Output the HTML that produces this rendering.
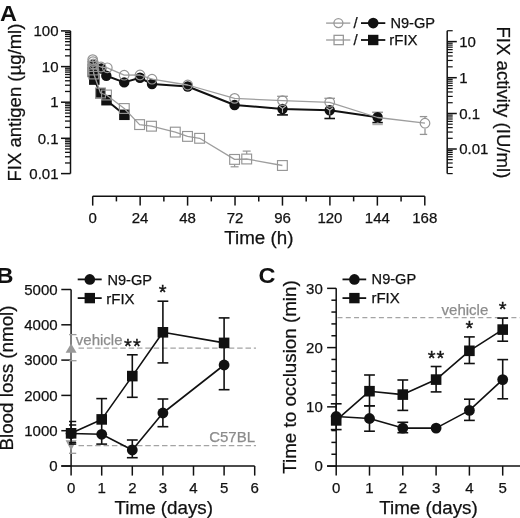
<!DOCTYPE html>
<html><head><meta charset="utf-8"><style>
html,body{margin:0;padding:0;background:#fff;}
svg{display:block;font-family:"Liberation Sans",sans-serif;-webkit-font-smoothing:antialiased;will-change:transform;}
</style></head><body>
<svg width="520" height="518" viewBox="0 0 520 518">
<rect width="520" height="518" fill="#fff"/>
<text transform="translate(0,20.9) scale(1.05,1)" font-size="22.4" font-weight="bold" fill="#111">A</text>
<line x1="70.50" y1="30.90" x2="70.50" y2="173.60" stroke="#111" stroke-width="1.5" />
<line x1="61.00" y1="173.60" x2="70.50" y2="173.60" stroke="#111" stroke-width="1.5" />
<line x1="65.00" y1="162.97" x2="70.50" y2="162.97" stroke="#111" stroke-width="1.3" />
<line x1="65.00" y1="156.76" x2="70.50" y2="156.76" stroke="#111" stroke-width="1.3" />
<line x1="65.00" y1="152.35" x2="70.50" y2="152.35" stroke="#111" stroke-width="1.3" />
<line x1="65.00" y1="148.93" x2="70.50" y2="148.93" stroke="#111" stroke-width="1.3" />
<line x1="65.00" y1="146.13" x2="70.50" y2="146.13" stroke="#111" stroke-width="1.3" />
<line x1="65.00" y1="143.77" x2="70.50" y2="143.77" stroke="#111" stroke-width="1.3" />
<line x1="65.00" y1="141.72" x2="70.50" y2="141.72" stroke="#111" stroke-width="1.3" />
<line x1="65.00" y1="139.92" x2="70.50" y2="139.92" stroke="#111" stroke-width="1.3" />
<line x1="61.00" y1="138.30" x2="70.50" y2="138.30" stroke="#111" stroke-width="1.5" />
<line x1="65.00" y1="127.43" x2="70.50" y2="127.43" stroke="#111" stroke-width="1.3" />
<line x1="65.00" y1="121.08" x2="70.50" y2="121.08" stroke="#111" stroke-width="1.3" />
<line x1="65.00" y1="116.57" x2="70.50" y2="116.57" stroke="#111" stroke-width="1.3" />
<line x1="65.00" y1="113.07" x2="70.50" y2="113.07" stroke="#111" stroke-width="1.3" />
<line x1="65.00" y1="110.21" x2="70.50" y2="110.21" stroke="#111" stroke-width="1.3" />
<line x1="65.00" y1="107.79" x2="70.50" y2="107.79" stroke="#111" stroke-width="1.3" />
<line x1="65.00" y1="105.70" x2="70.50" y2="105.70" stroke="#111" stroke-width="1.3" />
<line x1="65.00" y1="103.85" x2="70.50" y2="103.85" stroke="#111" stroke-width="1.3" />
<line x1="61.00" y1="102.20" x2="70.50" y2="102.20" stroke="#111" stroke-width="1.5" />
<line x1="65.00" y1="91.48" x2="70.50" y2="91.48" stroke="#111" stroke-width="1.3" />
<line x1="65.00" y1="85.21" x2="70.50" y2="85.21" stroke="#111" stroke-width="1.3" />
<line x1="65.00" y1="80.77" x2="70.50" y2="80.77" stroke="#111" stroke-width="1.3" />
<line x1="65.00" y1="77.32" x2="70.50" y2="77.32" stroke="#111" stroke-width="1.3" />
<line x1="65.00" y1="74.50" x2="70.50" y2="74.50" stroke="#111" stroke-width="1.3" />
<line x1="65.00" y1="72.11" x2="70.50" y2="72.11" stroke="#111" stroke-width="1.3" />
<line x1="65.00" y1="70.05" x2="70.50" y2="70.05" stroke="#111" stroke-width="1.3" />
<line x1="65.00" y1="68.23" x2="70.50" y2="68.23" stroke="#111" stroke-width="1.3" />
<line x1="61.00" y1="66.60" x2="70.50" y2="66.60" stroke="#111" stroke-width="1.5" />
<line x1="65.00" y1="55.85" x2="70.50" y2="55.85" stroke="#111" stroke-width="1.3" />
<line x1="65.00" y1="49.57" x2="70.50" y2="49.57" stroke="#111" stroke-width="1.3" />
<line x1="65.00" y1="45.11" x2="70.50" y2="45.11" stroke="#111" stroke-width="1.3" />
<line x1="65.00" y1="41.65" x2="70.50" y2="41.65" stroke="#111" stroke-width="1.3" />
<line x1="65.00" y1="38.82" x2="70.50" y2="38.82" stroke="#111" stroke-width="1.3" />
<line x1="65.00" y1="36.43" x2="70.50" y2="36.43" stroke="#111" stroke-width="1.3" />
<line x1="65.00" y1="34.36" x2="70.50" y2="34.36" stroke="#111" stroke-width="1.3" />
<line x1="65.00" y1="32.53" x2="70.50" y2="32.53" stroke="#111" stroke-width="1.3" />
<line x1="61.00" y1="30.90" x2="70.50" y2="30.90" stroke="#111" stroke-width="1.5" />
<text x="58.50" y="36.10" font-size="15" text-anchor="end" fill="#111" font-weight="normal"  stroke="#111" stroke-width="0.25">100</text>
<text x="58.50" y="71.80" font-size="15" text-anchor="end" fill="#111" font-weight="normal"  stroke="#111" stroke-width="0.25">10</text>
<text x="58.50" y="107.40" font-size="15" text-anchor="end" fill="#111" font-weight="normal"  stroke="#111" stroke-width="0.25">1</text>
<text x="58.50" y="143.50" font-size="15" text-anchor="end" fill="#111" font-weight="normal"  stroke="#111" stroke-width="0.25">0.1</text>
<text x="58.50" y="178.80" font-size="15" text-anchor="end" fill="#111" font-weight="normal"  stroke="#111" stroke-width="0.25">0.01</text>
<text transform="translate(21.40,102.60) rotate(-90)" x="0" y="0" font-size="18.55" text-anchor="middle" fill="#111" stroke="#111" stroke-width="0.25">FIX antigen (µg/ml)</text>
<line x1="92.70" y1="196.20" x2="424.80" y2="196.20" stroke="#111" stroke-width="1.5" />
<line x1="92.70" y1="196.20" x2="92.70" y2="205.60" stroke="#111" stroke-width="1.5" />
<text x="92.70" y="222.60" font-size="15" text-anchor="middle" fill="#111" font-weight="normal"  stroke="#111" stroke-width="0.25">0</text>
<line x1="116.42" y1="196.20" x2="116.42" y2="201.40" stroke="#111" stroke-width="1.5" />
<line x1="140.14" y1="196.20" x2="140.14" y2="205.60" stroke="#111" stroke-width="1.5" />
<text x="140.14" y="222.60" font-size="15" text-anchor="middle" fill="#111" font-weight="normal"  stroke="#111" stroke-width="0.25">24</text>
<line x1="163.86" y1="196.20" x2="163.86" y2="201.40" stroke="#111" stroke-width="1.5" />
<line x1="187.59" y1="196.20" x2="187.59" y2="205.60" stroke="#111" stroke-width="1.5" />
<text x="187.59" y="222.60" font-size="15" text-anchor="middle" fill="#111" font-weight="normal"  stroke="#111" stroke-width="0.25">48</text>
<line x1="211.31" y1="196.20" x2="211.31" y2="201.40" stroke="#111" stroke-width="1.5" />
<line x1="235.03" y1="196.20" x2="235.03" y2="205.60" stroke="#111" stroke-width="1.5" />
<text x="235.03" y="222.60" font-size="15" text-anchor="middle" fill="#111" font-weight="normal"  stroke="#111" stroke-width="0.25">72</text>
<line x1="258.75" y1="196.20" x2="258.75" y2="201.40" stroke="#111" stroke-width="1.5" />
<line x1="282.47" y1="196.20" x2="282.47" y2="205.60" stroke="#111" stroke-width="1.5" />
<text x="282.47" y="222.60" font-size="15" text-anchor="middle" fill="#111" font-weight="normal"  stroke="#111" stroke-width="0.25">96</text>
<line x1="306.19" y1="196.20" x2="306.19" y2="201.40" stroke="#111" stroke-width="1.5" />
<line x1="329.91" y1="196.20" x2="329.91" y2="205.60" stroke="#111" stroke-width="1.5" />
<text x="329.91" y="222.60" font-size="15" text-anchor="middle" fill="#111" font-weight="normal"  stroke="#111" stroke-width="0.25">120</text>
<line x1="353.64" y1="196.20" x2="353.64" y2="201.40" stroke="#111" stroke-width="1.5" />
<line x1="377.36" y1="196.20" x2="377.36" y2="205.60" stroke="#111" stroke-width="1.5" />
<text x="377.36" y="222.60" font-size="15" text-anchor="middle" fill="#111" font-weight="normal"  stroke="#111" stroke-width="0.25">144</text>
<line x1="401.08" y1="196.20" x2="401.08" y2="201.40" stroke="#111" stroke-width="1.5" />
<line x1="424.80" y1="196.20" x2="424.80" y2="205.60" stroke="#111" stroke-width="1.5" />
<text x="424.80" y="222.60" font-size="15" text-anchor="middle" fill="#111" font-weight="normal"  stroke="#111" stroke-width="0.25">168</text>
<text x="258.90" y="243.90" font-size="18.8" text-anchor="middle" fill="#111" font-weight="normal"  stroke="#111" stroke-width="0.25">Time (h)</text>
<line x1="447.20" y1="30.73" x2="447.20" y2="173.60" stroke="#111" stroke-width="1.5" />
<line x1="447.20" y1="149.00" x2="456.80" y2="149.00" stroke="#111" stroke-width="1.5" />
<line x1="447.20" y1="113.50" x2="456.80" y2="113.50" stroke="#111" stroke-width="1.5" />
<line x1="447.20" y1="77.70" x2="456.80" y2="77.70" stroke="#111" stroke-width="1.5" />
<line x1="447.20" y1="41.60" x2="456.80" y2="41.60" stroke="#111" stroke-width="1.5" />
<line x1="447.20" y1="173.60" x2="452.70" y2="173.60" stroke="#111" stroke-width="1.2" />
<line x1="447.20" y1="167.41" x2="452.70" y2="167.41" stroke="#111" stroke-width="1.2" />
<line x1="447.20" y1="163.01" x2="452.70" y2="163.01" stroke="#111" stroke-width="1.2" />
<line x1="447.20" y1="159.60" x2="452.70" y2="159.60" stroke="#111" stroke-width="1.2" />
<line x1="447.20" y1="156.81" x2="452.70" y2="156.81" stroke="#111" stroke-width="1.2" />
<line x1="447.20" y1="154.45" x2="452.70" y2="154.45" stroke="#111" stroke-width="1.2" />
<line x1="447.20" y1="152.41" x2="452.70" y2="152.41" stroke="#111" stroke-width="1.2" />
<line x1="447.20" y1="150.61" x2="452.70" y2="150.61" stroke="#111" stroke-width="1.2" />
<line x1="447.20" y1="138.31" x2="452.70" y2="138.31" stroke="#111" stroke-width="1.2" />
<line x1="447.20" y1="132.06" x2="452.70" y2="132.06" stroke="#111" stroke-width="1.2" />
<line x1="447.20" y1="127.63" x2="452.70" y2="127.63" stroke="#111" stroke-width="1.2" />
<line x1="447.20" y1="124.19" x2="452.70" y2="124.19" stroke="#111" stroke-width="1.2" />
<line x1="447.20" y1="121.38" x2="452.70" y2="121.38" stroke="#111" stroke-width="1.2" />
<line x1="447.20" y1="119.00" x2="452.70" y2="119.00" stroke="#111" stroke-width="1.2" />
<line x1="447.20" y1="116.94" x2="452.70" y2="116.94" stroke="#111" stroke-width="1.2" />
<line x1="447.20" y1="115.12" x2="452.70" y2="115.12" stroke="#111" stroke-width="1.2" />
<line x1="447.20" y1="102.72" x2="452.70" y2="102.72" stroke="#111" stroke-width="1.2" />
<line x1="447.20" y1="96.42" x2="452.70" y2="96.42" stroke="#111" stroke-width="1.2" />
<line x1="447.20" y1="91.95" x2="452.70" y2="91.95" stroke="#111" stroke-width="1.2" />
<line x1="447.20" y1="88.48" x2="452.70" y2="88.48" stroke="#111" stroke-width="1.2" />
<line x1="447.20" y1="85.64" x2="452.70" y2="85.64" stroke="#111" stroke-width="1.2" />
<line x1="447.20" y1="83.25" x2="452.70" y2="83.25" stroke="#111" stroke-width="1.2" />
<line x1="447.20" y1="81.17" x2="452.70" y2="81.17" stroke="#111" stroke-width="1.2" />
<line x1="447.20" y1="79.34" x2="452.70" y2="79.34" stroke="#111" stroke-width="1.2" />
<line x1="447.20" y1="66.83" x2="452.70" y2="66.83" stroke="#111" stroke-width="1.2" />
<line x1="447.20" y1="60.48" x2="452.70" y2="60.48" stroke="#111" stroke-width="1.2" />
<line x1="447.20" y1="55.97" x2="452.70" y2="55.97" stroke="#111" stroke-width="1.2" />
<line x1="447.20" y1="52.47" x2="452.70" y2="52.47" stroke="#111" stroke-width="1.2" />
<line x1="447.20" y1="49.61" x2="452.70" y2="49.61" stroke="#111" stroke-width="1.2" />
<line x1="447.20" y1="47.19" x2="452.70" y2="47.19" stroke="#111" stroke-width="1.2" />
<line x1="447.20" y1="45.10" x2="452.70" y2="45.10" stroke="#111" stroke-width="1.2" />
<line x1="447.20" y1="43.25" x2="452.70" y2="43.25" stroke="#111" stroke-width="1.2" />
<line x1="447.20" y1="30.73" x2="452.70" y2="30.73" stroke="#111" stroke-width="1.2" />
<text x="459.20" y="46.80" font-size="15" text-anchor="start" fill="#111" font-weight="normal"  stroke="#111" stroke-width="0.25">10</text>
<text x="459.20" y="82.90" font-size="15" text-anchor="start" fill="#111" font-weight="normal"  stroke="#111" stroke-width="0.25">1</text>
<text x="459.20" y="118.70" font-size="15" text-anchor="start" fill="#111" font-weight="normal"  stroke="#111" stroke-width="0.25">0.1</text>
<text x="459.20" y="154.20" font-size="15" text-anchor="start" fill="#111" font-weight="normal"  stroke="#111" stroke-width="0.25">0.01</text>
<text transform="translate(497.10,102.40) rotate(90)" x="0" y="0" font-size="18.6" text-anchor="middle" fill="#111" stroke="#111" stroke-width="0.25">FIX activity (IU/ml)</text>
<line x1="282.50" y1="114.00" x2="282.50" y2="114.90" stroke="#111" stroke-width="1.6" />
<line x1="277.10" y1="114.90" x2="287.90" y2="114.90" stroke="#111" stroke-width="1.6" />
<line x1="329.70" y1="115.20" x2="329.70" y2="118.50" stroke="#111" stroke-width="1.6" />
<line x1="324.40" y1="118.50" x2="335.00" y2="118.50" stroke="#111" stroke-width="1.6" />
<line x1="377.60" y1="112.00" x2="377.60" y2="112.30" stroke="#999" stroke-width="1.5" />
<line x1="372.20" y1="112.30" x2="383.00" y2="112.30" stroke="#999" stroke-width="1.5" />
<line x1="377.60" y1="122.00" x2="377.60" y2="122.60" stroke="#111" stroke-width="1.6" />
<line x1="372.40" y1="122.60" x2="382.80" y2="122.60" stroke="#111" stroke-width="1.6" />
<line x1="377.60" y1="122.00" x2="377.60" y2="124.30" stroke="#b0b0b0" stroke-width="1.8" />
<line x1="372.40" y1="124.30" x2="382.80" y2="124.30" stroke="#b0b0b0" stroke-width="1.8" />
<polyline points="92.80,72.00 94.30,79.60 100.40,93.20 106.50,100.20 124.40,114.80" fill="none" stroke="#111" stroke-width="2" stroke-linejoin="round"/>
<rect x="87.55" y="66.75" width="10.5" height="10.5" fill="#111"/>
<rect x="89.05" y="74.35" width="10.5" height="10.5" fill="#111"/>
<rect x="95.15" y="87.95" width="10.5" height="10.5" fill="#111"/>
<rect x="101.25" y="94.95" width="10.5" height="10.5" fill="#111"/>
<rect x="119.15" y="109.55" width="10.5" height="10.5" fill="#111"/>
<polyline points="92.80,65.00 93.30,67.00 93.80,69.00 101.30,68.50 106.30,75.80 124.20,82.40 140.00,77.80 152.00,84.00 187.70,86.50 234.60,105.00 282.50,109.00 329.70,110.20 377.60,117.20" fill="none" stroke="#111" stroke-width="2" stroke-linejoin="round"/>
<circle cx="92.80" cy="65.00" r="5.2" fill="#111"/>
<circle cx="93.30" cy="67.00" r="5.2" fill="#111"/>
<circle cx="93.80" cy="69.00" r="5.2" fill="#111"/>
<circle cx="101.30" cy="68.50" r="5.2" fill="#111"/>
<circle cx="106.30" cy="75.80" r="5.2" fill="#111"/>
<circle cx="124.20" cy="82.40" r="5.2" fill="#111"/>
<circle cx="140.00" cy="77.80" r="5.2" fill="#111"/>
<circle cx="152.00" cy="84.00" r="5.2" fill="#111"/>
<circle cx="187.70" cy="86.50" r="5.2" fill="#111"/>
<circle cx="234.60" cy="105.00" r="5.2" fill="#111"/>
<circle cx="282.50" cy="109.00" r="5.2" fill="#111"/>
<circle cx="329.70" cy="110.20" r="5.2" fill="#111"/>
<circle cx="377.60" cy="117.20" r="5.2" fill="#111"/>
<polyline points="279.10,106.00 282.50,108.60 285.90,106.00" fill="none" stroke="#bbb" stroke-width="1.1"/>
<line x1="282.50" y1="108.60" x2="282.50" y2="112.80" stroke="#bbb" stroke-width="1.1" />
<polyline points="326.30,107.70 329.70,110.30 333.10,107.70" fill="none" stroke="#bbb" stroke-width="1.1"/>
<line x1="329.70" y1="110.30" x2="329.70" y2="114.50" stroke="#bbb" stroke-width="1.1" />
<line x1="282.50" y1="96.00" x2="282.50" y2="96.30" stroke="#959595" stroke-width="1.3" />
<line x1="277.10" y1="96.30" x2="287.90" y2="96.30" stroke="#959595" stroke-width="1.3" />
<line x1="329.70" y1="97.50" x2="329.70" y2="98.30" stroke="#959595" stroke-width="1.3" />
<line x1="324.40" y1="98.30" x2="335.00" y2="98.30" stroke="#959595" stroke-width="1.3" />
<line x1="425.00" y1="118.00" x2="425.00" y2="116.60" stroke="#959595" stroke-width="1.3" />
<line x1="419.80" y1="116.60" x2="427.20" y2="116.60" stroke="#959595" stroke-width="1.3" />
<line x1="425.00" y1="128.40" x2="425.00" y2="134.40" stroke="#959595" stroke-width="1.3" />
<line x1="419.80" y1="134.40" x2="427.20" y2="134.40" stroke="#959595" stroke-width="1.3" />
<line x1="234.60" y1="164.50" x2="234.60" y2="166.80" stroke="#959595" stroke-width="1.2" />
<line x1="230.60" y1="166.80" x2="238.60" y2="166.80" stroke="#959595" stroke-width="1.2" />
<line x1="246.70" y1="154.00" x2="246.70" y2="151.10" stroke="#959595" stroke-width="1.2" />
<line x1="242.70" y1="151.10" x2="250.70" y2="151.10" stroke="#959595" stroke-width="1.2" />
<polyline points="92.80,66.50 93.30,70.00 93.80,74.00 100.50,93.00 106.50,95.00 124.30,108.50 139.60,124.60 151.50,126.20 175.30,132.10 187.50,136.40 199.60,138.30 234.60,159.40 246.70,159.00 282.40,165.50" fill="none" stroke="#9e9e9e" stroke-width="1.3" stroke-linejoin="round"/>
<rect x="87.90" y="61.60" width="9.8" height="9.8" fill="none" stroke="#959595" stroke-width="1.15"/>
<rect x="88.40" y="65.10" width="9.8" height="9.8" fill="none" stroke="#959595" stroke-width="1.15"/>
<rect x="88.90" y="69.10" width="9.8" height="9.8" fill="none" stroke="#959595" stroke-width="1.15"/>
<rect x="95.60" y="88.10" width="9.8" height="9.8" fill="none" stroke="#959595" stroke-width="1.15"/>
<rect x="101.60" y="90.10" width="9.8" height="9.8" fill="none" stroke="#959595" stroke-width="1.15"/>
<rect x="119.40" y="103.60" width="9.8" height="9.8" fill="none" stroke="#959595" stroke-width="1.15"/>
<rect x="134.70" y="119.70" width="9.8" height="9.8" fill="none" stroke="#959595" stroke-width="1.15"/>
<rect x="146.60" y="121.30" width="9.8" height="9.8" fill="none" stroke="#959595" stroke-width="1.15"/>
<rect x="170.40" y="127.20" width="9.8" height="9.8" fill="none" stroke="#959595" stroke-width="1.15"/>
<rect x="182.60" y="131.50" width="9.8" height="9.8" fill="none" stroke="#959595" stroke-width="1.15"/>
<rect x="194.70" y="133.40" width="9.8" height="9.8" fill="none" stroke="#959595" stroke-width="1.15"/>
<rect x="229.70" y="154.50" width="9.8" height="9.8" fill="none" stroke="#959595" stroke-width="1.15"/>
<rect x="241.80" y="154.10" width="9.8" height="9.8" fill="none" stroke="#959595" stroke-width="1.15"/>
<rect x="277.50" y="160.60" width="9.8" height="9.8" fill="none" stroke="#959595" stroke-width="1.15"/>
<polyline points="92.70,59.60 93.00,61.60 93.40,64.00 101.00,67.00 107.30,67.80 124.20,75.20 140.00,75.00 152.00,79.20 187.70,85.00 234.60,98.40 282.50,100.60 329.70,102.30 377.60,117.50 425.00,123.20" fill="none" stroke="#9e9e9e" stroke-width="1.3" stroke-linejoin="round"/>
<circle cx="92.70" cy="59.60" r="4.8" fill="none" stroke="#959595" stroke-width="1.2"/>
<circle cx="93.00" cy="61.60" r="4.8" fill="none" stroke="#959595" stroke-width="1.2"/>
<circle cx="93.40" cy="64.00" r="4.8" fill="none" stroke="#959595" stroke-width="1.2"/>
<circle cx="101.00" cy="67.00" r="4.8" fill="none" stroke="#959595" stroke-width="1.2"/>
<circle cx="107.30" cy="67.80" r="4.8" fill="none" stroke="#959595" stroke-width="1.2"/>
<circle cx="124.20" cy="75.20" r="4.8" fill="none" stroke="#959595" stroke-width="1.2"/>
<circle cx="140.00" cy="75.00" r="4.8" fill="none" stroke="#959595" stroke-width="1.2"/>
<circle cx="152.00" cy="79.20" r="4.8" fill="none" stroke="#959595" stroke-width="1.2"/>
<circle cx="187.70" cy="85.00" r="4.8" fill="none" stroke="#959595" stroke-width="1.2"/>
<circle cx="234.60" cy="98.40" r="4.8" fill="none" stroke="#959595" stroke-width="1.2"/>
<circle cx="282.50" cy="100.60" r="4.8" fill="none" stroke="#959595" stroke-width="1.2"/>
<circle cx="329.70" cy="102.30" r="4.8" fill="none" stroke="#959595" stroke-width="1.2"/>
<circle cx="425.00" cy="123.20" r="4.8" fill="none" stroke="#959595" stroke-width="1.2"/>
<line x1="326.10" y1="23.10" x2="350.30" y2="23.10" stroke="#999" stroke-width="1.3" />
<circle cx="338.40" cy="23.10" r="4.5" fill="none" stroke="#999" stroke-width="1.3"/>
<text x="353.60" y="28.30" font-size="15" text-anchor="start" fill="#111" font-weight="normal"  stroke="#111" stroke-width="0.25">/</text>
<line x1="361.00" y1="23.10" x2="385.30" y2="23.10" stroke="#111" stroke-width="1.8" />
<circle cx="373.20" cy="23.10" r="5.3" fill="#111"/>
<text x="390.40" y="28.20" font-size="14.6" text-anchor="start" fill="#111" font-weight="normal"  stroke="#111" stroke-width="0.25">N9-GP</text>
<line x1="326.10" y1="40.00" x2="350.30" y2="40.00" stroke="#999" stroke-width="1.3" />
<rect x="334.05" y="35.35" width="9.3" height="9.3" fill="none" stroke="#999" stroke-width="1.3"/>
<text x="353.60" y="44.80" font-size="15" text-anchor="start" fill="#111" font-weight="normal"  stroke="#111" stroke-width="0.25">/</text>
<line x1="361.00" y1="40.00" x2="385.30" y2="40.00" stroke="#111" stroke-width="1.8" />
<rect x="368.00" y="34.80" width="10.4" height="10.4" fill="#111"/>
<text x="389.30" y="44.60" font-size="15" text-anchor="start" fill="#111" font-weight="normal"  stroke="#111" stroke-width="0.25">rFIX</text>
<text transform="translate(-3.4,282.6) scale(1.05,1)" font-size="22.4" font-weight="bold" fill="#111">B</text>
<line x1="71.10" y1="289.50" x2="71.10" y2="475.60" stroke="#111" stroke-width="1.5" />
<line x1="61.30" y1="466.00" x2="254.70" y2="466.00" stroke="#111" stroke-width="1.5" />
<line x1="61.30" y1="466.00" x2="71.10" y2="466.00" stroke="#111" stroke-width="1.5" />
<text x="57.60" y="471.20" font-size="15" text-anchor="end" fill="#111" font-weight="normal"  stroke="#111" stroke-width="0.25">0</text>
<line x1="61.30" y1="430.70" x2="71.10" y2="430.70" stroke="#111" stroke-width="1.5" />
<text x="57.60" y="435.90" font-size="15" text-anchor="end" fill="#111" font-weight="normal"  stroke="#111" stroke-width="0.25">1000</text>
<line x1="61.30" y1="395.40" x2="71.10" y2="395.40" stroke="#111" stroke-width="1.5" />
<text x="57.60" y="400.60" font-size="15" text-anchor="end" fill="#111" font-weight="normal"  stroke="#111" stroke-width="0.25">2000</text>
<line x1="61.30" y1="360.10" x2="71.10" y2="360.10" stroke="#111" stroke-width="1.5" />
<text x="57.60" y="365.30" font-size="15" text-anchor="end" fill="#111" font-weight="normal"  stroke="#111" stroke-width="0.25">3000</text>
<line x1="61.30" y1="324.80" x2="71.10" y2="324.80" stroke="#111" stroke-width="1.5" />
<text x="57.60" y="330.00" font-size="15" text-anchor="end" fill="#111" font-weight="normal"  stroke="#111" stroke-width="0.25">4000</text>
<line x1="61.30" y1="289.50" x2="71.10" y2="289.50" stroke="#111" stroke-width="1.5" />
<text x="57.60" y="294.70" font-size="15" text-anchor="end" fill="#111" font-weight="normal"  stroke="#111" stroke-width="0.25">5000</text>
<line x1="101.70" y1="466.00" x2="101.70" y2="475.60" stroke="#111" stroke-width="1.5" />
<line x1="132.30" y1="466.00" x2="132.30" y2="475.60" stroke="#111" stroke-width="1.5" />
<line x1="162.90" y1="466.00" x2="162.90" y2="475.60" stroke="#111" stroke-width="1.5" />
<line x1="193.50" y1="466.00" x2="193.50" y2="475.60" stroke="#111" stroke-width="1.5" />
<line x1="224.10" y1="466.00" x2="224.10" y2="475.60" stroke="#111" stroke-width="1.5" />
<line x1="254.70" y1="466.00" x2="254.70" y2="475.60" stroke="#111" stroke-width="1.5" />
<text x="71.10" y="492.90" font-size="15" text-anchor="middle" fill="#111" font-weight="normal"  stroke="#111" stroke-width="0.25">0</text>
<text x="101.70" y="492.90" font-size="15" text-anchor="middle" fill="#111" font-weight="normal"  stroke="#111" stroke-width="0.25">1</text>
<text x="132.30" y="492.90" font-size="15" text-anchor="middle" fill="#111" font-weight="normal"  stroke="#111" stroke-width="0.25">2</text>
<text x="162.90" y="492.90" font-size="15" text-anchor="middle" fill="#111" font-weight="normal"  stroke="#111" stroke-width="0.25">3</text>
<text x="193.50" y="492.90" font-size="15" text-anchor="middle" fill="#111" font-weight="normal"  stroke="#111" stroke-width="0.25">4</text>
<text x="224.10" y="492.90" font-size="15" text-anchor="middle" fill="#111" font-weight="normal"  stroke="#111" stroke-width="0.25">5</text>
<text x="254.70" y="492.90" font-size="15" text-anchor="middle" fill="#111" font-weight="normal"  stroke="#111" stroke-width="0.25">6</text>
<text x="163.80" y="513.50" font-size="18.8" text-anchor="middle" fill="#111" font-weight="normal"  stroke="#111" stroke-width="0.25">Time (days)</text>
<text transform="translate(12.70,378.00) rotate(-90)" x="0" y="0" font-size="18.8" text-anchor="middle" fill="#111" stroke="#111" stroke-width="0.25">Blood loss (nmol)</text>
<line x1="78.5" y1="348.2" x2="256" y2="348.2" stroke="#a4a4a4" stroke-width="1.25" stroke-dasharray="5.5,2.85"/>
<line x1="78.5" y1="445.6" x2="256" y2="445.6" stroke="#a4a4a4" stroke-width="1.25" stroke-dasharray="5.5,2.85"/>
<text x="75.80" y="344.70" font-size="15" text-anchor="start" fill="#8c8c8c" font-weight="normal"  stroke="#8c8c8c" stroke-width="0.25">vehicle</text>
<text x="255.00" y="441.80" font-size="15" text-anchor="end" fill="#8c8c8c" font-weight="normal"  stroke="#8c8c8c" stroke-width="0.25">C57BL</text>
<line x1="71.10" y1="334.60" x2="71.10" y2="360.70" stroke="#999" stroke-width="1.3" />
<line x1="69.10" y1="334.60" x2="76.50" y2="334.60" stroke="#999" stroke-width="1.3" />
<line x1="69.10" y1="360.70" x2="76.50" y2="360.70" stroke="#999" stroke-width="1.3" />
<polygon points="65.6,352.8 76.6,352.8 71.1,343.4" fill="#999"/>
<line x1="71.10" y1="445.00" x2="71.10" y2="453.30" stroke="#999" stroke-width="1.3" />
<line x1="69.00" y1="453.30" x2="76.20" y2="453.30" stroke="#999" stroke-width="1.3" />
<polygon points="65.6,440.2 76.6,440.2 71.1,450.6" fill="#999"/>
<line x1="71.10" y1="421.50" x2="71.10" y2="444.10" stroke="#111" stroke-width="1.5" />
<line x1="69.00" y1="421.50" x2="76.20" y2="421.50" stroke="#111" stroke-width="1.5" />
<line x1="69.00" y1="425.00" x2="76.20" y2="425.00" stroke="#111" stroke-width="1.5" />
<line x1="69.00" y1="442.60" x2="76.20" y2="442.60" stroke="#111" stroke-width="1.5" />
<line x1="69.00" y1="444.10" x2="76.20" y2="444.10" stroke="#111" stroke-width="1.5" />
<line x1="101.70" y1="398.60" x2="101.70" y2="444.10" stroke="#111" stroke-width="1.6" />
<line x1="96.30" y1="398.60" x2="107.10" y2="398.60" stroke="#111" stroke-width="1.6" />
<line x1="96.30" y1="444.10" x2="107.10" y2="444.10" stroke="#111" stroke-width="1.6" />
<line x1="132.30" y1="354.80" x2="132.30" y2="397.30" stroke="#111" stroke-width="1.6" />
<line x1="126.90" y1="354.80" x2="137.70" y2="354.80" stroke="#111" stroke-width="1.6" />
<line x1="126.90" y1="397.30" x2="137.70" y2="397.30" stroke="#111" stroke-width="1.6" />
<line x1="132.30" y1="440.00" x2="132.30" y2="457.70" stroke="#111" stroke-width="1.6" />
<line x1="126.90" y1="440.00" x2="137.70" y2="440.00" stroke="#111" stroke-width="1.6" />
<line x1="126.90" y1="457.70" x2="137.70" y2="457.70" stroke="#111" stroke-width="1.6" />
<line x1="162.90" y1="301.20" x2="162.90" y2="362.90" stroke="#111" stroke-width="1.6" />
<line x1="157.50" y1="301.20" x2="168.30" y2="301.20" stroke="#111" stroke-width="1.6" />
<line x1="157.50" y1="362.90" x2="168.30" y2="362.90" stroke="#111" stroke-width="1.6" />
<line x1="162.90" y1="399.00" x2="162.90" y2="426.70" stroke="#111" stroke-width="1.6" />
<line x1="157.50" y1="399.00" x2="168.30" y2="399.00" stroke="#111" stroke-width="1.6" />
<line x1="157.50" y1="426.70" x2="168.30" y2="426.70" stroke="#111" stroke-width="1.6" />
<line x1="224.10" y1="317.90" x2="224.10" y2="389.70" stroke="#111" stroke-width="1.6" />
<line x1="218.70" y1="317.90" x2="229.50" y2="317.90" stroke="#111" stroke-width="1.6" />
<line x1="218.70" y1="389.70" x2="229.50" y2="389.70" stroke="#111" stroke-width="1.6" />
<polyline points="71.10,433.50 101.70,434.30 132.30,450.00 162.90,413.00 224.10,365.00" fill="none" stroke="#111" stroke-width="1.6" stroke-linejoin="round"/>
<polyline points="71.10,433.30 101.70,419.40 132.30,376.10 162.90,332.30 224.10,342.90" fill="none" stroke="#111" stroke-width="1.6" stroke-linejoin="round"/>
<circle cx="71.10" cy="433.50" r="5.4" fill="#111"/>
<circle cx="101.70" cy="434.30" r="5.4" fill="#111"/>
<circle cx="132.30" cy="450.00" r="5.4" fill="#111"/>
<circle cx="162.90" cy="413.00" r="5.4" fill="#111"/>
<circle cx="224.10" cy="365.00" r="5.4" fill="#111"/>
<rect x="65.80" y="428.00" width="10.6" height="10.6" fill="#111"/>
<rect x="96.40" y="414.10" width="10.6" height="10.6" fill="#111"/>
<rect x="127.00" y="370.80" width="10.6" height="10.6" fill="#111"/>
<rect x="157.60" y="327.00" width="10.6" height="10.6" fill="#111"/>
<rect x="218.80" y="337.60" width="10.6" height="10.6" fill="#111"/>
<text x="162.60" y="299.10" font-size="20" text-anchor="middle" fill="#111" font-weight="normal" stroke="#111" stroke-width="0.35">*</text>
<text x="132.90" y="352.90" font-size="20" text-anchor="middle" fill="#111" font-weight="normal" letter-spacing="1" stroke="#111" stroke-width="0.35">**</text>
<line x1="77.70" y1="279.40" x2="101.70" y2="279.40" stroke="#111" stroke-width="1.8" />
<circle cx="89.80" cy="279.40" r="5.3" fill="#111"/>
<text x="107.40" y="285.20" font-size="14.6" text-anchor="start" fill="#111" font-weight="normal"  stroke="#111" stroke-width="0.25">N9-GP</text>
<line x1="77.70" y1="298.10" x2="101.70" y2="298.10" stroke="#111" stroke-width="1.8" />
<rect x="84.60" y="292.90" width="10.4" height="10.4" fill="#111"/>
<text x="106.30" y="303.50" font-size="15" text-anchor="start" fill="#111" font-weight="normal"  stroke="#111" stroke-width="0.25">rFIX</text>
<text transform="translate(258.6,282.9) scale(1.05,1)" font-size="22.4" font-weight="bold" fill="#111">C</text>
<line x1="336.20" y1="288.35" x2="336.20" y2="475.60" stroke="#111" stroke-width="1.5" />
<line x1="327.10" y1="466.10" x2="521.00" y2="466.10" stroke="#111" stroke-width="1.5" />
<line x1="327.10" y1="466.10" x2="336.20" y2="466.10" stroke="#111" stroke-width="1.5" />
<text x="322.80" y="471.30" font-size="15" text-anchor="end" fill="#111" font-weight="normal"  stroke="#111" stroke-width="0.25">0</text>
<line x1="331.40" y1="454.25" x2="336.20" y2="454.25" stroke="#111" stroke-width="1.5" />
<line x1="331.40" y1="442.40" x2="336.20" y2="442.40" stroke="#111" stroke-width="1.5" />
<line x1="331.40" y1="430.55" x2="336.20" y2="430.55" stroke="#111" stroke-width="1.5" />
<line x1="331.40" y1="418.70" x2="336.20" y2="418.70" stroke="#111" stroke-width="1.5" />
<line x1="327.10" y1="406.85" x2="336.20" y2="406.85" stroke="#111" stroke-width="1.5" />
<text x="322.80" y="412.05" font-size="15" text-anchor="end" fill="#111" font-weight="normal"  stroke="#111" stroke-width="0.25">10</text>
<line x1="331.40" y1="395.00" x2="336.20" y2="395.00" stroke="#111" stroke-width="1.5" />
<line x1="331.40" y1="383.15" x2="336.20" y2="383.15" stroke="#111" stroke-width="1.5" />
<line x1="331.40" y1="371.30" x2="336.20" y2="371.30" stroke="#111" stroke-width="1.5" />
<line x1="331.40" y1="359.45" x2="336.20" y2="359.45" stroke="#111" stroke-width="1.5" />
<line x1="327.10" y1="347.60" x2="336.20" y2="347.60" stroke="#111" stroke-width="1.5" />
<text x="322.80" y="352.80" font-size="15" text-anchor="end" fill="#111" font-weight="normal"  stroke="#111" stroke-width="0.25">20</text>
<line x1="331.40" y1="335.75" x2="336.20" y2="335.75" stroke="#111" stroke-width="1.5" />
<line x1="331.40" y1="323.90" x2="336.20" y2="323.90" stroke="#111" stroke-width="1.5" />
<line x1="331.40" y1="312.05" x2="336.20" y2="312.05" stroke="#111" stroke-width="1.5" />
<line x1="331.40" y1="300.20" x2="336.20" y2="300.20" stroke="#111" stroke-width="1.5" />
<line x1="327.10" y1="288.35" x2="336.20" y2="288.35" stroke="#111" stroke-width="1.5" />
<text x="322.80" y="293.55" font-size="15" text-anchor="end" fill="#111" font-weight="normal"  stroke="#111" stroke-width="0.25">30</text>
<line x1="369.50" y1="466.10" x2="369.50" y2="475.60" stroke="#111" stroke-width="1.5" />
<line x1="402.80" y1="466.10" x2="402.80" y2="475.60" stroke="#111" stroke-width="1.5" />
<line x1="436.10" y1="466.10" x2="436.10" y2="475.60" stroke="#111" stroke-width="1.5" />
<line x1="469.40" y1="466.10" x2="469.40" y2="475.60" stroke="#111" stroke-width="1.5" />
<line x1="502.70" y1="466.10" x2="502.70" y2="475.60" stroke="#111" stroke-width="1.5" />
<text x="336.20" y="492.90" font-size="15" text-anchor="middle" fill="#111" font-weight="normal"  stroke="#111" stroke-width="0.25">0</text>
<text x="369.50" y="492.90" font-size="15" text-anchor="middle" fill="#111" font-weight="normal"  stroke="#111" stroke-width="0.25">1</text>
<text x="402.80" y="492.90" font-size="15" text-anchor="middle" fill="#111" font-weight="normal"  stroke="#111" stroke-width="0.25">2</text>
<text x="436.10" y="492.90" font-size="15" text-anchor="middle" fill="#111" font-weight="normal"  stroke="#111" stroke-width="0.25">3</text>
<text x="469.40" y="492.90" font-size="15" text-anchor="middle" fill="#111" font-weight="normal"  stroke="#111" stroke-width="0.25">4</text>
<text x="502.70" y="492.90" font-size="15" text-anchor="middle" fill="#111" font-weight="normal"  stroke="#111" stroke-width="0.25">5</text>
<text x="428.50" y="513.50" font-size="18.8" text-anchor="middle" fill="#111" font-weight="normal"  stroke="#111" stroke-width="0.25">Time (days)</text>
<text transform="translate(296.00,377.00) rotate(-90)" x="0" y="0" font-size="18.8" text-anchor="middle" fill="#111" stroke="#111" stroke-width="0.25">Time to occlusion (min)</text>
<line x1="337.5" y1="317.7" x2="520" y2="317.7" stroke="#a4a4a4" stroke-width="1.25" stroke-dasharray="5,3.28"/>
<text x="441.60" y="314.90" font-size="15" text-anchor="start" fill="#8c8c8c" font-weight="normal"  stroke="#8c8c8c" stroke-width="0.25">vehicle</text>
<line x1="336.20" y1="403.80" x2="336.20" y2="429.60" stroke="#111" stroke-width="1.6" />
<line x1="330.80" y1="403.80" x2="341.60" y2="403.80" stroke="#111" stroke-width="1.6" />
<line x1="330.80" y1="429.60" x2="341.60" y2="429.60" stroke="#111" stroke-width="1.6" />
<line x1="369.50" y1="375.00" x2="369.50" y2="405.80" stroke="#111" stroke-width="1.6" />
<line x1="364.10" y1="375.00" x2="374.90" y2="375.00" stroke="#111" stroke-width="1.6" />
<line x1="364.10" y1="405.80" x2="374.90" y2="405.80" stroke="#111" stroke-width="1.6" />
<line x1="369.50" y1="405.80" x2="369.50" y2="431.20" stroke="#111" stroke-width="1.6" />
<line x1="364.10" y1="405.80" x2="374.90" y2="405.80" stroke="#111" stroke-width="1.6" />
<line x1="364.10" y1="431.20" x2="374.90" y2="431.20" stroke="#111" stroke-width="1.6" />
<line x1="402.80" y1="380.00" x2="402.80" y2="410.40" stroke="#111" stroke-width="1.6" />
<line x1="397.40" y1="380.00" x2="408.20" y2="380.00" stroke="#111" stroke-width="1.6" />
<line x1="397.40" y1="410.40" x2="408.20" y2="410.40" stroke="#111" stroke-width="1.6" />
<line x1="402.80" y1="422.30" x2="402.80" y2="432.70" stroke="#111" stroke-width="1.6" />
<line x1="397.40" y1="422.30" x2="408.20" y2="422.30" stroke="#111" stroke-width="1.6" />
<line x1="397.40" y1="432.70" x2="408.20" y2="432.70" stroke="#111" stroke-width="1.6" />
<line x1="436.10" y1="366.50" x2="436.10" y2="391.90" stroke="#111" stroke-width="1.6" />
<line x1="430.70" y1="366.50" x2="441.50" y2="366.50" stroke="#111" stroke-width="1.6" />
<line x1="430.70" y1="391.90" x2="441.50" y2="391.90" stroke="#111" stroke-width="1.6" />
<line x1="469.40" y1="336.90" x2="469.40" y2="363.50" stroke="#111" stroke-width="1.6" />
<line x1="464.00" y1="336.90" x2="474.80" y2="336.90" stroke="#111" stroke-width="1.6" />
<line x1="464.00" y1="363.50" x2="474.80" y2="363.50" stroke="#111" stroke-width="1.6" />
<line x1="469.40" y1="399.20" x2="469.40" y2="420.40" stroke="#111" stroke-width="1.6" />
<line x1="464.00" y1="399.20" x2="474.80" y2="399.20" stroke="#111" stroke-width="1.6" />
<line x1="464.00" y1="420.40" x2="474.80" y2="420.40" stroke="#111" stroke-width="1.6" />
<line x1="502.70" y1="318.10" x2="502.70" y2="341.20" stroke="#111" stroke-width="1.6" />
<line x1="497.30" y1="318.10" x2="508.10" y2="318.10" stroke="#111" stroke-width="1.6" />
<line x1="497.30" y1="341.20" x2="508.10" y2="341.20" stroke="#111" stroke-width="1.6" />
<line x1="502.70" y1="359.60" x2="502.70" y2="398.80" stroke="#111" stroke-width="1.6" />
<line x1="497.30" y1="359.60" x2="508.10" y2="359.60" stroke="#111" stroke-width="1.6" />
<line x1="497.30" y1="398.80" x2="508.10" y2="398.80" stroke="#111" stroke-width="1.6" />
<polyline points="336.20,416.50 369.50,418.50 402.80,428.10 436.10,428.10 469.40,410.40 502.70,379.60" fill="none" stroke="#111" stroke-width="1.6" stroke-linejoin="round"/>
<polyline points="336.20,420.40 369.50,391.20 402.80,394.60 436.10,379.60 469.40,350.80 502.70,329.60" fill="none" stroke="#111" stroke-width="1.6" stroke-linejoin="round"/>
<circle cx="336.20" cy="416.50" r="5.4" fill="#111"/>
<circle cx="369.50" cy="418.50" r="5.4" fill="#111"/>
<circle cx="402.80" cy="428.10" r="5.4" fill="#111"/>
<circle cx="436.10" cy="428.10" r="5.4" fill="#111"/>
<circle cx="469.40" cy="410.40" r="5.4" fill="#111"/>
<circle cx="502.70" cy="379.60" r="5.4" fill="#111"/>
<rect x="330.90" y="415.10" width="10.6" height="10.6" fill="#111"/>
<rect x="364.20" y="385.90" width="10.6" height="10.6" fill="#111"/>
<rect x="397.50" y="389.30" width="10.6" height="10.6" fill="#111"/>
<rect x="430.80" y="374.30" width="10.6" height="10.6" fill="#111"/>
<rect x="464.10" y="345.50" width="10.6" height="10.6" fill="#111"/>
<rect x="497.40" y="324.30" width="10.6" height="10.6" fill="#111"/>
<text x="436.50" y="365.30" font-size="20" text-anchor="middle" fill="#111" font-weight="normal" letter-spacing="1" stroke="#111" stroke-width="0.35">**</text>
<text x="469.50" y="334.70" font-size="20" text-anchor="middle" fill="#111" font-weight="normal" stroke="#111" stroke-width="0.35">*</text>
<text x="502.60" y="316.10" font-size="20" text-anchor="middle" fill="#111" font-weight="normal" stroke="#111" stroke-width="0.35">*</text>
<line x1="342.50" y1="279.40" x2="366.20" y2="279.40" stroke="#111" stroke-width="1.8" />
<circle cx="354.40" cy="279.40" r="5.3" fill="#111"/>
<text x="371.60" y="284.20" font-size="14.6" text-anchor="start" fill="#111" font-weight="normal"  stroke="#111" stroke-width="0.25">N9-GP</text>
<line x1="342.50" y1="298.10" x2="366.20" y2="298.10" stroke="#111" stroke-width="1.8" />
<rect x="349.20" y="292.90" width="10.4" height="10.4" fill="#111"/>
<text x="371.40" y="302.50" font-size="15" text-anchor="start" fill="#111" font-weight="normal"  stroke="#111" stroke-width="0.25">rFIX</text>
</svg>
</body></html>
